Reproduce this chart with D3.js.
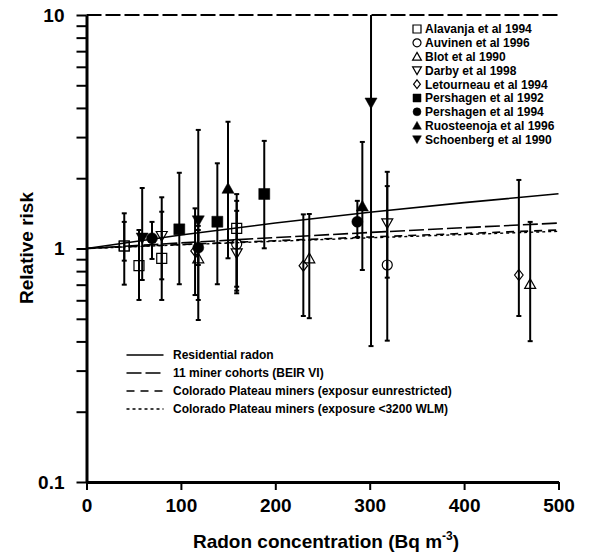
<!DOCTYPE html>
<html><head><meta charset="utf-8">
<script src="https://cdn.jsdelivr.net/npm/d3@7"></script>
<style>
html,body{margin:0;padding:0;background:#fff;}
svg{display:block;font-family:"Liberation Sans",Arial,Helvetica,sans-serif;font-weight:bold;}
</style></head>
<body>
<svg id="chart" width="613" height="554"></svg>
<script>
// ---- data ----
const studies = ["Alavanja et al 1994","Auvinen et al 1996","Blot et al 1990","Darby et al 1998",
  "Letourneau et al 1994","Pershagen et al 1992","Pershagen et al 1994","Ruosteenoja et al 1996","Schoenberg et al 1990"];
const pointStudy = ["Alavanja et al 1994","Alavanja et al 1994","Alavanja et al 1994","Schoenberg et al 1990",
  "Pershagen et al 1994","Darby et al 1998","Alavanja et al 1994","Pershagen et al 1992","Letourneau et al 1994",
  "Schoenberg et al 1990","Pershagen et al 1994","Blot et al 1990","Pershagen et al 1992","Ruosteenoja et al 1996",
  "Alavanja et al 1994","Auvinen et al 1996","Darby et al 1998","Pershagen et al 1992","Letourneau et al 1994",
  "Blot et al 1990","Pershagen et al 1994","Ruosteenoja et al 1996","Schoenberg et al 1990","Darby et al 1998",
  "Auvinen et al 1996","Letourneau et al 1994","Blot et al 1990"];
const pointDose = [40,40,55.6,59,69.4,79.7,79.7,98.3,115,118.4,118.4,118.4,138.6,149.9,159.1,159.1,159.1,188.3,229.7,236,286.9,292.2,301.4,318.6,318.6,458,470];
const pointRR   = [1.025,1.025,0.844,1.109,1.106,1.131,0.908,1.208,0.976,1.314,1.008,0.908,1.302,1.81,1.22,1.045,0.954,1.712,0.844,0.908,1.302,1.52,4.2,1.282,0.85,0.77,0.705];
const pointLow  = [0.70,0.887,0.602,0.733,0.902,0.738,0.602,0.703,0.632,0.602,0.85,0.494,0.703,0.908,0.643,0.686,0.66,1.002,0.514,0.503,1.12,0.809,0.382,0.75,0.403,0.514,0.401];
const pointHigh = [1.415,1.30,1.20,1.816,1.30,1.437,1.657,2.11,1.486,3.22,1.2,1.25,2.317,3.49,1.71,1.60,1.45,2.89,1.40,1.405,1.60,2.86,10,2.13,1.85,1.966,1.30];

const lineNames = ["Residential radon","11 miner cohorts (BEIR VI)",
  "Colorado Plateau miners (exposur eunrestricted)","Colorado Plateau miners (exposure <3200 WLM)"];
const lineDose = [0,100,200,300,400,500];
const residential = [1,1.143,1.286,1.429,1.572,1.715];
const minerCohorts = [1,1.057,1.114,1.171,1.228,1.285];
const coloradoAll = [1,1.04,1.08,1.12,1.16,1.20];
const colorado3200 = [1,1.037,1.074,1.111,1.148,1.185];

const xTicks = [0,100,200,300,400,500];
const yMajor = [0.1,1,10];
const yMinor = [0.2,0.3,0.4,0.5,0.6,0.7,0.8,0.9,2,3,4,5,6,7,8,9];

// ---- layout / styles ----
const svg = d3.select("#chart");
const x = d3.scaleLinear().domain([0,500]).range([86.5,558.5]);
const y = d3.scaleLog().domain([0.1,10]).range([482,15]);

const symType = {
  "Alavanja et al 1994":["square",false],"Auvinen et al 1996":["circle",false],
  "Blot et al 1990":["tri",false],"Darby et al 1998":["tridown",false],
  "Letourneau et al 1994":["diamond",false],"Pershagen et al 1992":["square",true],
  "Pershagen et al 1994":["circle",true],"Ruosteenoja et al 1996":["tri",true],
  "Schoenberg et al 1990":["tridown",true]};
function symPath(t,s){
  const h=s/2;
  if(t==="square") return `M${-h},${-h}H${h}V${h}H${-h}Z`;
  if(t==="circle") return `M${h},0A${h},${h} 0 1,1 ${-h},0A${h},${h} 0 1,1 ${h},0Z`;
  if(t==="tri") return `M0,${-h*1.05}L${h*1.1},${h*0.9}L${-h*1.1},${h*0.9}Z`;
  if(t==="tridown") return `M0,${h*1.05}L${h*1.1},${-h*0.9}L${-h*1.1},${-h*0.9}Z`;
  if(t==="diamond") return `M0,${-h*1.1}L${h*0.85},0L0,${h*1.1}L${-h*0.85},0Z`;
}

// regression lines
const lineSeries = [residential,minerCohorts,coloradoAll,colorado3200];
const dashes = [null,"15,4","8,6","3,3"];
const widths = [1.6,1.6,1.6,1.4];
const lg = d3.line().x((d,i)=>x(lineDose[i])).y(d=>y(d));
lineSeries.forEach((s,k)=>{
  svg.append("path").attr("d",lg(s)).attr("fill","none").attr("stroke","#000")
    .attr("stroke-width",widths[k]).attr("stroke-dasharray",dashes[k]);
});

// top dashed line at 10
svg.append("line").attr("x1",x(0)).attr("x2",x(500)).attr("y1",y(10)).attr("y2",y(10))
  .attr("stroke","#000").attr("stroke-width",2).attr("stroke-dasharray","15,4");

// error bars & markers
const pts = pointDose.map((d,i)=>({d, rr:pointRR[i], lo:pointLow[i], hi:pointHigh[i], s:pointStudy[i]}));
const gb = svg.append("g");
pts.forEach(p=>{
  const cx=x(p.d);
  gb.append("line").attr("x1",cx).attr("x2",cx).attr("y1",y(p.lo)).attr("y2",y(p.hi))
    .attr("stroke","#000").attr("stroke-width",2);
  [p.lo,p.hi].forEach(v=>{
    if(v>=10) return;
    gb.append("line").attr("x1",cx-2.5).attr("x2",cx+2.5).attr("y1",y(v)).attr("y2",y(v))
      .attr("stroke","#000").attr("stroke-width",2);
  });
});
pts.forEach(p=>{
  const [t,f]=symType[p.s];
  svg.append("path").attr("d",symPath(t,f?11:10))
    .attr("transform",`translate(${x(p.d)},${y(p.rr)})`)
    .attr("fill",f?"#000":"none").attr("stroke","#000").attr("stroke-width",f?0.5:1.2);
});

// axes
const yAxis = d3.axisLeft(y).tickValues(yMajor.concat(yMinor)).tickSize(10).tickSizeOuter(0)
  .tickFormat(d=>yMajor.includes(d)?d3.format("~g")(d):"");
const gy = svg.append("g").attr("transform",`translate(${x(0)},0)`).call(yAxis);
gy.select(".domain").attr("stroke-width",3);
gy.selectAll(".tick line").attr("stroke-width",2);
gy.selectAll(".tick text").attr("font-size",19).attr("font-weight","bold")
  .attr("font-family","Liberation Sans, Arial, sans-serif").attr("fill","#000").attr("x",-22);

const xAxis = d3.axisBottom(x).tickValues(xTicks).tickSize(8).tickSizeOuter(0).tickFormat(d3.format("d"));
const gx = svg.append("g").attr("transform",`translate(0,${y(0.1)})`).call(xAxis);
gx.select(".domain").attr("stroke-width",3);
gx.selectAll(".tick line").attr("stroke-width",2);
gx.selectAll(".tick text").attr("font-size",19).attr("font-weight","bold")
  .attr("font-family","Liberation Sans, Arial, sans-serif").attr("fill","#000").attr("y",17);

// axis titles
svg.append("text").attr("transform","translate(33,248) rotate(-90)").attr("text-anchor","middle")
  .attr("font-size",19).text("Relative risk");
const xt = svg.append("text").attr("x",326).attr("y",548).attr("text-anchor","middle").attr("font-size",19);
xt.append("tspan").text("Radon concentration (Bq m");
xt.append("tspan").attr("font-size",12).attr("dy",-8).text("-3");
xt.append("tspan").attr("dy",8).text(")");

// study legend
const legY0 = 29, legStep = 13.8;
studies.forEach((s,i)=>{
  const [t,f]=symType[s];
  const yy = legY0+i*legStep;
  svg.append("path").attr("d",symPath(t,8)).attr("transform",`translate(417,${yy})`)
    .attr("fill",f?"#000":"none").attr("stroke","#000").attr("stroke-width",f?0.5:1.2);
  svg.append("text").attr("x",425).attr("y",yy+4.3).attr("font-size",12).text(s);
});

// line legend
const lineLegY = [355,373,391,409];
lineNames.forEach((n,i)=>{
  svg.append("line").attr("x1",126.5).attr("x2",163.5).attr("y1",lineLegY[i]).attr("y2",lineLegY[i])
    .attr("stroke","#000").attr("stroke-width",widths[i]).attr("stroke-dasharray",dashes[i]);
  svg.append("text").attr("x",173).attr("y",lineLegY[i]+4.3).attr("font-size",12).text(n);
});
</script>
</body></html>
